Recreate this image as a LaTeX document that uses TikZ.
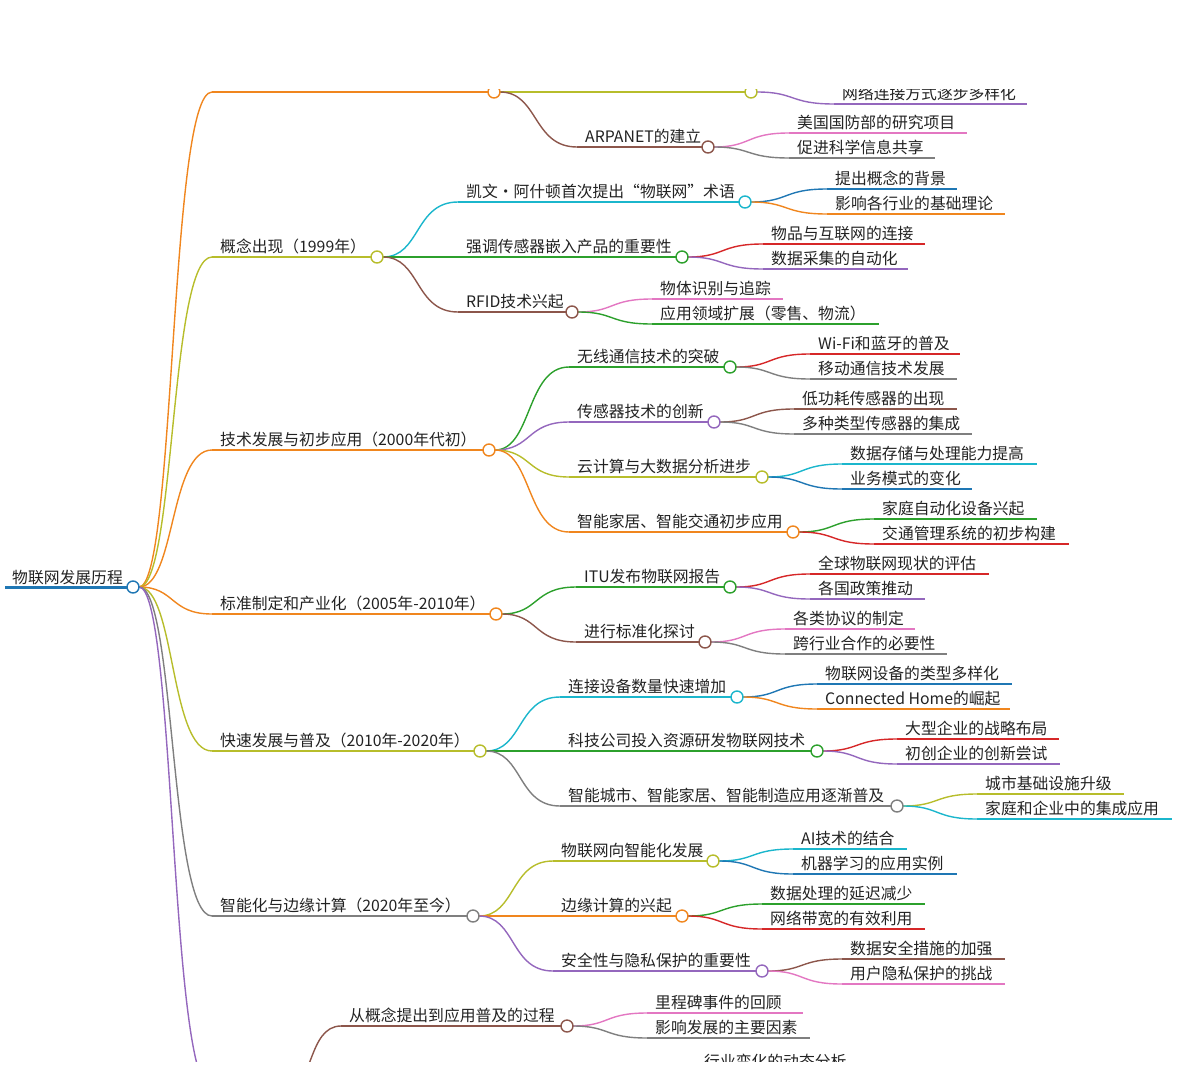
\documentclass[tikz,border=0pt]{standalone}
\usepackage{fontspec}
\setmainfont{Noto Sans CJK SC}
\usetikzlibrary{calc}
\definecolor{cor}{HTML}{F0861E}
\definecolor{col}{HTML}{B7BD2B}
\definecolor{ccy}{HTML}{1BB6CC}
\definecolor{cgr}{HTML}{2CA02C}
\definecolor{cbr}{HTML}{8C564B}
\definecolor{cpk}{HTML}{E377C2}
\definecolor{cgy}{HTML}{7F7F7F}
\definecolor{cpu}{HTML}{9467BD}
\definecolor{crd}{HTML}{D62728}
\definecolor{cbl}{HTML}{1F77B4}
\definecolor{ctx}{HTML}{222222}
\tikzset{ln/.style={line width=1.4pt},txt/.style={font=\fontsize{15.8}{18}\selectfont,text=ctx,inner sep=0pt}}
\newcommand\mmn[6]{\coordinate (#1-l) at (#2,#4); \coordinate (#1-r) at (#3,#4);
 \draw[#5,ln] (#1-l) -- (#1-r);
 \node[txt,anchor=base west] (#1) at (#2+8,#4-4.5) {#6};}
\newcommand\lnk[3]{\draw[#3,ln] let \p1=(#1-r),\p2=(#2-l) in (\x1+6pt,\y1) .. controls ({(\x1+\x2)/2+3pt},\y1) and ({(\x1+\x2)/2-3pt},\y2) .. (\p2);}
\newcommand\dotn[2]{\draw[#2,ln,fill=white] (#1-r) circle (6);}
\begin{document}
\begin{tikzpicture}[x=1pt,y=-1pt]
\useasboundingbox (0,0) rectangle (1177,1065);
\clip (0,89) rectangle (1177,1061);
% root
\coordinate (root-l) at (5,587); \coordinate (root-r) at (133,587);
\draw[cbl,line width=3pt] (root-l) -- (root-r);
\node[txt,anchor=base west] (root) at (12,583) {物联网发展历程};
% level 1
\mmn{a}{212}{494}{92}{cor}{}
\mmn{b}{212}{377}{257}{col}{概念出现（1999年）}
\mmn{c}{212}{489}{450}{cor}{技术发展与初步应用（2000年代初）}
\mmn{d}{212}{496}{614}{cor}{标准制定和产业化（2005年-2010年）}
\mmn{e}{212}{480}{751}{col}{快速发展与普及（2010年-2020年）}
\mmn{f}{212}{473}{916}{cgy}{智能化与边缘计算（2020年至今）}
\mmn{g}{212}{280}{1090}{cpu}{}
\lnk{root}{a}{cor}\lnk{root}{b}{col}\lnk{root}{c}{cor}\lnk{root}{d}{cor}
\lnk{root}{e}{col}\lnk{root}{f}{cgy}\lnk{root}{g}{cpu}
% a
\mmn{a1}{500}{751}{92}{col}{}
\mmn{a11}{834}{1027}{104}{cpu}{网络连接方式逐步多样化}
\mmn{a2}{577}{708}{147}{cbr}{ARPANET的建立}
\mmn{a21}{789}{967}{133}{cpk}{美国国防部的研究项目}
\mmn{a22}{789}{935}{158}{cgy}{促进科学信息共享}
\lnk{a2}{a21}{cpk}\lnk{a2}{a22}{cgy}\lnk{a1}{a11}{cpu}\lnk{a}{a2}{cbr}
% b
\mmn{b1}{458}{745}{202}{ccy}{凯文·阿什顿首次提出“物联网”术语}
\mmn{b11}{827}{957}{189}{cbl}{提出概念的背景}
\mmn{b12}{827}{1005}{214}{cor}{影响各行业的基础理论}
\mmn{b2}{458}{682}{257}{cgr}{强调传感器嵌入产品的重要性}
\mmn{b21}{763}{925}{244}{crd}{物品与互联网的连接}
\mmn{b22}{763}{908}{269}{cpu}{数据采集的自动化}
\mmn{b3}{458}{572}{312}{cbr}{RFID技术兴起}
\mmn{b31}{652}{783}{299}{cpk}{物体识别与追踪}
\mmn{b32}{652}{879}{324}{cgr}{应用领域扩展（零售、物流）}
\lnk{b}{b1}{ccy}\lnk{b}{b2}{cgr}\lnk{b}{b3}{cbr}
\lnk{b1}{b11}{cbl}\lnk{b1}{b12}{cor}\lnk{b2}{b21}{crd}\lnk{b2}{b22}{cpu}\lnk{b3}{b31}{cpk}\lnk{b3}{b32}{cgr}
% c
\mmn{c1}{569}{730}{367}{cgr}{无线通信技术的突破}
\mmn{c11}{810}{960}{354}{crd}{Wi-Fi和蓝牙的普及}
\mmn{c12}{810}{957}{379}{cgy}{移动通信技术发展}
\mmn{c2}{569}{714}{422}{cpu}{传感器技术的创新}
\mmn{c21}{794}{957}{409}{cbr}{低功耗传感器的出现}
\mmn{c22}{794}{972}{434}{cgy}{多种类型传感器的集成}
\mmn{c3}{569}{762}{477}{col}{云计算与大数据分析进步}
\mmn{c31}{842}{1037}{464}{ccy}{数据存储与处理能力提高}
\mmn{c32}{842}{972}{489}{cbl}{业务模式的变化}
\mmn{c4}{569}{793}{532}{cor}{智能家居、智能交通初步应用}
\mmn{c41}{874}{1037}{519}{cgr}{家庭自动化设备兴起}
\mmn{c42}{874}{1069}{544}{crd}{交通管理系统的初步构建}
\lnk{c}{c1}{cgr}\lnk{c}{c2}{cpu}\lnk{c}{c3}{col}\lnk{c}{c4}{cor}
\lnk{c1}{c11}{crd}\lnk{c1}{c12}{cgy}\lnk{c2}{c21}{cbr}\lnk{c2}{c22}{cgy}
\lnk{c3}{c31}{ccy}\lnk{c3}{c32}{cbl}\lnk{c4}{c41}{cgr}\lnk{c4}{c42}{crd}
% d
\mmn{d1}{576}{730}{587}{cgr}{ITU发布物联网报告}
\mmn{d11}{810}{989}{574}{crd}{全球物联网现状的评估}
\mmn{d12}{810}{925}{599}{cpu}{各国政策推动}
\mmn{d2}{576}{705}{642}{cbr}{进行标准化探讨}
\mmn{d21}{785}{915}{629}{cpk}{各类协议的制定}
\mmn{d22}{785}{947}{654}{cgy}{跨行业合作的必要性}
\lnk{d}{d1}{cgr}\lnk{d}{d2}{cbr}
\lnk{d1}{d11}{crd}\lnk{d1}{d12}{cpu}\lnk{d2}{d21}{cpk}\lnk{d2}{d22}{cgy}
% e
\mmn{e1}{560}{737}{697}{ccy}{连接设备数量快速增加}
\mmn{e11}{817}{1012}{684}{cbl}{物联网设备的类型多样化}
\mmn{e12}{817}{1010}{709}{cor}{Connected Home的崛起}
\mmn{e2}{560}{817}{751}{cgr}{科技公司投入资源研发物联网技术}
\mmn{e21}{897}{1059}{739}{crd}{大型企业的战略布局}
\mmn{e22}{897}{1060}{764}{cpu}{初创企业的创新尝试}
\mmn{e3}{560}{897}{806}{cgy}{智能城市、智能家居、智能制造应用逐渐普及}
\mmn{e31}{977}{1124}{794}{col}{城市基础设施升级}
\mmn{e32}{977}{1172}{819}{ccy}{家庭和企业中的集成应用}
\lnk{e}{e1}{ccy}\lnk{e}{e2}{cgr}\lnk{e}{e3}{cgy}
\lnk{e1}{e11}{cbl}\lnk{e1}{e12}{cor}\lnk{e2}{e21}{crd}\lnk{e2}{e22}{cpu}\lnk{e3}{e31}{col}\lnk{e3}{e32}{ccy}
% f
\mmn{f1}{553}{713}{861}{col}{物联网向智能化发展}
\mmn{f11}{793}{907}{849}{ccy}{AI技术的结合}
\mmn{f12}{793}{957}{874}{cbl}{机器学习的应用实例}
\mmn{f2}{553}{682}{916}{cor}{边缘计算的兴起}
\mmn{f21}{762}{925}{904}{cgr}{数据处理的延迟减少}
\mmn{f22}{762}{925}{929}{crd}{网络带宽的有效利用}
\mmn{f3}{553}{762}{971}{cpu}{安全性与隐私保护的重要性}
\mmn{f31}{842}{1005}{959}{cbr}{数据安全措施的加强}
\mmn{f32}{842}{1005}{984}{cpk}{用户隐私保护的挑战}
\lnk{f}{f1}{col}\lnk{f}{f2}{cor}\lnk{f}{f3}{cpu}
\lnk{f1}{f11}{ccy}\lnk{f1}{f12}{cbl}\lnk{f2}{f21}{cgr}\lnk{f2}{f22}{crd}\lnk{f3}{f31}{cbr}\lnk{f3}{f32}{cpk}
% g
\mmn{g1}{341}{567}{1026}{cbr}{从概念提出到应用普及的过程}
\mmn{g11}{647}{803}{1013}{cpk}{里程碑事件的回顾}
\mmn{g12}{647}{810}{1038}{cgy}{影响发展的主要因素}
\mmn{g2}{696}{860}{1072}{cgy}{行业变化的动态分析}
\lnk{g}{g1}{cbr}\lnk{g1}{g11}{cpk}\lnk{g1}{g12}{cgy}
% dots
\dotn{root}{cbl}
\dotn{a}{cor}\dotn{a1}{col}\dotn{a2}{cbr}
\dotn{b}{col}\dotn{b1}{ccy}\dotn{b2}{cgr}\dotn{b3}{cbr}
\dotn{c}{cor}\dotn{c1}{cgr}\dotn{c2}{cpu}\dotn{c3}{col}\dotn{c4}{cor}
\dotn{d}{cor}\dotn{d1}{cgr}\dotn{d2}{cbr}
\dotn{e}{col}\dotn{e1}{ccy}\dotn{e2}{cgr}\dotn{e3}{cgy}
\dotn{f}{cgy}\dotn{f1}{col}\dotn{f2}{cor}\dotn{f3}{cpu}
\dotn{g}{cpu}\dotn{g1}{cbr}
\end{tikzpicture}
\end{document}
